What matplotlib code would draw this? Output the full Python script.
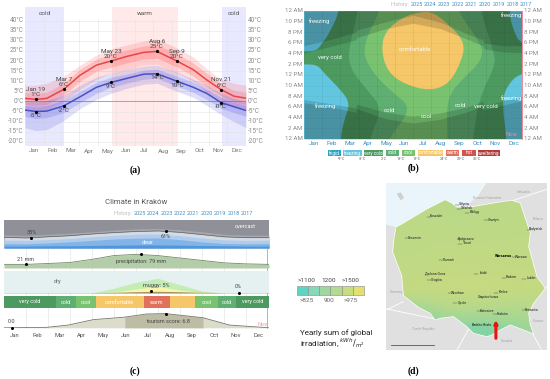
import matplotlib
matplotlib.use("Agg")
import matplotlib.pyplot as plt
import numpy as np
from matplotlib.patches import PathPatch, Polygon
from matplotlib.path import Path
from matplotlib.colors import LinearSegmentedColormap

plt.rcParams["font.family"] = ["Roboto", "DejaVu Sans"]

MONTHS = ["Jan", "Feb", "Mar", "Apr", "May", "Jun", "Jul", "Aug", "Sep", "Oct", "Nov", "Dec"]
YEARS = ["2025", "2024", "2023", "2022", "2021", "2020", "2019", "2018", "2017"]

# panel a: temperature by day of year
days = [0, 18, 36, 64, 91, 118, 142, 168, 196, 218, 251, 278, 300, 324, 345, 365]
high_mean = [1.5, 1, 1.5, 6, 13, 18, 20, 22.3, 24.3, 24.8, 20, 15.7, 10.7, 5.8, 2.6, 1.6]
low_mean = [-4.3, -5, -4.8, -2.2, 2.3, 7, 9.4, 11.4, 13.5, 13.7, 10, 7, 4, -0.6, -2.6, -4.5]
high_p90 = [8, 8, 9, 12.5, 18, 23, 26, 28, 30, 31, 26.5, 22, 16, 11, 9, 8]
high_p75 = [4.5, 4, 4.5, 9, 16, 21, 23.5, 25.5, 27.5, 28, 23.5, 19, 14, 8.5, 5.5, 4.5]
high_p25 = [-1.5, -2, -1.5, 3, 10, 15, 17, 19, 21, 21.5, 17, 12.5, 7.5, 2.8, -0.5, -1.5]
high_p10 = [-4.5, -5, -4, 0, 6, 11, 14, 16, 18, 18.5, 14, 10, 4.5, 0, -3, -4.5]
low_p90 = [0, 0, 0.5, 3, 8, 12, 14, 16, 17.5, 18, 14.5, 11, 8, 4, 1.5, 0]
low_p75 = [-2, -2.5, -2, 0.5, 5, 9.5, 12, 13.5, 15.5, 16, 12.5, 9.5, 6, 2, -0.5, -2]
low_p25 = [-7.5, -8.5, -8, -5.5, -0.5, 4, 7, 9, 11, 11.5, 7.5, 4.5, 1, -3.5, -5.5, -7.5]
low_p10 = [-13, -14.5, -14, -9.5, -3.5, 1, 4, 6.5, 8.5, 9, 5, 2, -2, -6.5, -10, -13]
high_notes = [(18, 1, "Jan 19\n1°C"), (64, 6, "Mar 7\n6°C"), (142, 20, "May 23\n20°C"),
              (218, 24.8, "Aug 6\n25°C"), (251, 20, "Sep 9\n20°C"), (324, 5.8, "Nov 21\n6°C")]
low_notes = [(18, -5, "-5°C"), (64, -2.2, "-2°C"), (142, 9.4, "9°C"),
             (218, 13.7, "14°C"), (251, 10, "10°C"), (324, -0.6, "-0°C")]
month_edges = [0, 31, 59, 90, 120, 151, 181, 212, 243, 273, 304, 334, 365]
season_spans = [(0, 64.5, "#e8e8ff", "cold"), (143, 252, "#ffe9e9", "warm"), (326, 365, "#e8e8ff", "cold")]

# panel b: hour of day by month, region outlines (running past the plot edges)
cold_months = [3.0, 3.0, 2.45, 2.5, 3.54, 4.3, 3.6, 3.5, 9.2, 9.3, 9.65, 10.5, 10.5, 9.7, 9.7]
cold_hours = [28, 24, 17, 13.3, 8.9, 5.8, 0, -4, -4, 0, 7.8, 13.5, 16, 24, 28]
cool_months = [4.2, 4.2, 3.25, 3.45, 4.73, 6.0, 4.6, 4.5, 7.9, 7.9, 7.85, 8.77, 9.8, 9.8, 8.4, 8.4]
cool_hours = [28, 24, 17.8, 13.8, 9, 5.8, 0, -4, -4, 0, 7.8, 11.4, 14.7, 17.8, 24, 28]
comfort_months = [6.4, 5.5, 4.45, 4.25, 4.6, 5.5, 6.9, 8.0, 8.7, 8.85, 8.0, 7.1]
comfort_hours = [23.8, 23, 20.2, 16.6, 12.6, 10.3, 9, 10.3, 14.8, 18.2, 21.4, 23.8]
frz_tl_months = [-2, 1.95, 1.95, 1.5, 1, 0.5, -2]
frz_tl_hours = [28, 28, 24, 20.5, 17.8, 16, 17.6]
frz_bl_months = [-2, -2, 0.55, 1.2, 2.0, 2.55, 2.2, 2.0, 2.0]
frz_bl_hours = [-4, 12.5, 14.6, 12, 9.3, 6.7, 3.5, 0, -4]
frz_tr_months = [14, 11.3, 11.3, 11.45, 11.95, 14]
frz_tr_hours = [28, 28, 24, 21, 17.4, 16.5]
frz_br_months = [14, 11.15, 11.15, 10.9, 11.15, 11.9, 14]
frz_br_hours = [-4, -4, 0, 7, 9.8, 12.6, 12.5]
sun_months = [0, 1.5, 2.85, 2.9, 4.5, 6, 7.5, 9, 9.85, 9.9, 11, 12]
dusk_outer = [17.5, 18.7, 20, 20.4, 22, 23.2, 21.9, 19.7, 18.6, 18, 17.5, 17.5]
dusk_inner = [16.1, 17.4, 18.6, 19, 20.7, 21.7, 20.7, 18.7, 17.5, 16.9, 16.3, 16.2]
dawn_inner = [7.4, 6.6, 5.8, 6.5, 5, 4.3, 4.9, 6, 7.1, 6.2, 7.2, 8]
dawn_outer = [6.8, 6, 5, 5.7, 3.8, 3, 3.7, 5.1, 6.3, 5.4, 6.4, 7.2]
hour_labels = ["12 AM", "2 AM", "4 AM", "6 AM", "8 AM", "10 AM", "12 PM", "2 PM", "4 PM",
               "6 PM", "8 PM", "10 PM", "12 AM"]
chip_names = ["frigid", "freezing", "very cold", "cold", "cool", "comfortable", "warm", "hot", "sweltering"]
chip_colors = ["#2aa3bd", "#62c6e0", "#4d9a60", "#5fae72", "#79c26f", "#f6c768", "#e0715c", "#d2524c", "#b03c3c"]
chip_edges = [158, 197, 205, 260, 267, 323, 332, 372, 380, 420, 428, 505, 512, 553, 561, 602, 609, 674]
chip_limits = ["-9°C", "-3°C", "2°C", "13°C", "18°C", "24°C", "29°C", "35°C"]

# panel c: strips by month
strip_x = [0, 1, 2, 3, 4, 5, 6, 7, 8, 9, 10, 11, 12.06]
clear_top = [38, 36, 40, 44, 50, 55, 59, 61, 56, 48, 40, 37, 37]
cloud_top = [47, 45, 49, 53, 58, 64, 68, 70, 65, 58, 49, 46, 46]
partly_top = [28, 27, 30, 34, 40, 45, 49, 50, 44, 36, 29, 27, 28]
mostly_top = [16, 15, 18, 22, 27, 32, 35, 36, 30, 22, 16, 15, 16]
clear_sky = [7, 7, 8, 8, 9, 10, 11, 11, 10, 9, 8, 7, 7]
precip_x = [0, 1, 2, 3, 4, 5, 6, 7, 8, 9, 10, 11, 12.06]
precip_mm = [21, 21, 26, 32, 50, 72, 79, 72, 58, 44, 30, 24, 21]
mugg_x = [0, 4, 5, 6, 7, 8, 9, 10, 12.06]
muggy_green = [0, 0, 14, 32, 44, 25, 6, 0, 0]
muggy_yellow = [0, 0, 3, 12, 20, 9, 2, 0, 0]
muggy_brown = [1, 1, 2, 4, 5, 4, 2, 1, 1]
band_names = ["very cold", "cold", "cool", "comfortable", "warm", "", "cool", "cold", "very cold"]
band_edges = [0, 2.36, 3.27, 4.18, 6.36, 7.55, 8.70, 9.73, 10.58, 12.06]
band_colors = ["#4d9a60", "#5fae72", "#79c26f", "#f6c768", "#e0715c", "#f6c768", "#79c26f", "#5fae72", "#4d9a60"]
tour_x = [0, 1.94, 2.92, 4.06, 5.5, 6.48, 7.35, 9.06, 10.27, 12.06]
tour_score = [0, 0.2, 1.3, 3.9, 5.1, 6.6, 6.8, 4.8, 1.3, 0]

# panel d: map outlines, x and y in map units
poland_x = [378, 400, 450, 470, 525, 545, 560, 600, 640, 700, 725, 750, 760, 780, 775, 790, 800, 825, 810, 790,
            775, 780, 790, 760, 720, 690, 665, 650, 610, 590, 550, 510, 495, 480, 445, 400, 395, 368, 372]
poland_y = [172, 160, 130, 118, 90, 100, 112, 112, 105, 95, 92, 100, 130, 190, 230, 285, 320, 355, 375, 400,
            430, 465, 492, 480, 465, 480, 495, 500, 490, 470, 440, 445, 450, 430, 412, 377, 317, 247, 205]
sea_x = [348, 645, 615, 600, 560, 545, 525, 470, 450, 400, 378, 348]
sea_y = [40, 40, 85, 100, 112, 100, 90, 118, 130, 160, 172, 165]
island_x = [380, 392, 402, 392]
island_y = [72, 68, 84, 92]
irradiance = [[1085, 1080, 1085, 1085], [1090, 1090, 1090, 1095], [1095, 1100, 1100, 1100], [1100, 1110, 1110, 1110],
              [1110, 1120, 1120, 1110], [1040, 1070, 1070, 1070], [980, 1010, 1010, 1030]]
irr_colors = ["#5cd0b4", "#9ad69a", "#b8d98a", "#c6da80"]
cities = [("Gdynia", 582, 104), ("Gdańsk", 590, 116), ("Elbląg", 613, 128), ("Olsztyn", 670, 150),
          ("Koszalin", 498, 140), ("Szczecin", 433, 204), ("Bydgoszcz", 588, 208), ("Toruń", 592, 221),
          ("Białystok", 798, 179), ("Warsaw", 752, 261), ("Poznań", 535, 270), ("Zielona Gora", 494, 313),
          ("Głogów", 500, 330), ("Łódź", 640, 310), ("Radom", 722, 322), ("Lublin", 782, 325),
          ("Wrocław", 562, 369), ("Kielce", 700, 367), ("Częstochowa", 655, 381), ("Opole", 578, 398),
          ("Katowice", 649, 422), ("Kraków", 697, 431), ("Rzeszów", 784, 419), ("Bielsko-Biała", 635, 465)]
neighbours = [("Russian Federation", 650, 85), ("Lithuania", 760, 68), ("Belarus", 805, 148),
              ("Ukraine", 805, 452), ("Slovakia", 710, 512), ("Czech Republic", 460, 478), ("Germany", 378, 367)]
borders = [([350, 400], [420, 395]), ([495, 350], [447, 417]), ([595, 560], [477, 542]), ([785, 815], [487, 542]),
           ([730, 835], [92, 57]), ([825, 830], [357, 350]), ([645, 615], [42, 87])]
legend_colors = ["#5cd6c0", "#85d8b8", "#9ed8a0", "#b2da90", "#c8dc80", "#e4e070"]

GRAY = "#8a8a8a"
BLUE = "#3f8fc4"

fig = plt.figure(figsize=(5.5, 3.79), dpi=100)


def pane(x0, y0, x1, y1):
    ax = fig.add_axes([x0 / 550, 1 - y1 / 379, (x1 - x0) / 550, (y1 - y0) / 379])
    ax.axis("off")
    return ax


def history(ax, x0, step, y):
    ax.text(x0 - 17, y, "History:", color="#bbbbbb", fontsize=4, ha="center", va="center")
    for i, year in enumerate(YEARS):
        ax.text(x0 + i * step, y, year, color=BLUE, fontsize=4, ha="center", va="center")


def blob(ax, xs, ys, color):
    # closed quadratic spline through the outline's edge midpoints
    pts = list(zip(xs, ys))
    mids = [((p[0] + q[0]) / 2, (p[1] + q[1]) / 2) for p, q in zip(pts, pts[1:] + pts[:1])]
    verts = [mids[-1]]
    codes = [Path.MOVETO]
    for p, m in zip(pts, mids):
        verts += [p, m]
        codes += [Path.CURVE3, Path.CURVE3]
    verts.append(verts[0])
    codes.append(Path.CLOSEPOLY)
    ax.add_patch(PathPatch(Path(verts, codes), fc=color, ec="none", lw=0))


page = pane(0, 0, 550, 379)
page.set_xlim(0, 550)
page.set_ylim(379, 0)

# panel a
a = pane(25, 7, 246, 146)
a.set_xlim(0, 365)
a.set_ylim(-22.1, 46.8)
for start, end, color, name in season_spans:
    a.axvspan(start, end, color=color, lw=0, zorder=0)
    a.text((start + end) / 2, 43.8, name, fontsize=4.6, color="#555555", ha="center", va="center")
for edge in month_edges[1:-1]:
    a.plot([edge, edge], [-22.1, 41], color="#e4e4e4", lw=0.4, zorder=1)
for t in range(-20, 45, 5):
    a.plot([0, 365], [t, t], color="#e4e4e4", lw=0.4, zorder=1)
    page.text(23.5, 141.7 - (t + 20) * 2.017, f"{t}°C", fontsize=4.7, color=GRAY, ha="right", va="center")
    page.text(247.5, 141.7 - (t + 20) * 2.017, f"{t}°C", fontsize=4.7, color=GRAY, ha="left", va="center")
a.plot([0, 365], [0, 0], color="#999999", lw=0.6, zorder=1)
a.fill_between(days, high_p10, high_p90, color="#ff3b3b", alpha=0.16, lw=0, zorder=2)
a.fill_between(days, high_p25, high_p75, color="#ff3b3b", alpha=0.2, lw=0, zorder=2)
a.fill_between(days, low_p10, low_p90, color="#4a4ae0", alpha=0.17, lw=0, zorder=3)
a.fill_between(days, low_p25, low_p75, color="#4a4ae0", alpha=0.2, lw=0, zorder=3)
a.plot(days, high_mean, color="#e8454a", lw=1.1, zorder=4)
a.plot(days, low_mean, color="#4a4fc8", lw=1.1, zorder=4)
for d, t, label in high_notes:
    a.plot(d, t, "o", color="black", ms=1.3, zorder=5)
    a.annotate(label, (d, t), xytext=(0, 1.5), textcoords="offset points", fontsize=4.6, color="#444444",
               ha="center", va="bottom", linespacing=1.05, zorder=6)
for d, t, label in low_notes:
    a.plot(d, t, "o", color="black", ms=1.3, zorder=5)
    a.annotate(label, (d, t), xytext=(0, -1.2), textcoords="offset points", fontsize=4.6, color="#444444",
               ha="center", va="top", zorder=6)
for i, month in enumerate(MONTHS):
    page.text(34 + i * 18.42, 151, month, fontsize=4.6, color="#777777", ha="center", va="center")

# panel b
b = pane(304, 11, 522, 139)
b.set_xlim(0, 12)
b.set_ylim(0, 24)
b.axvspan(0, 12, color="#4d9a60", lw=0, zorder=0)
blob(b, cold_months, cold_hours, "#5fae72")
blob(b, cool_months, cool_hours, "#79c26f")
blob(b, comfort_months, comfort_hours, "#f6c768")
for mx, hy in [(frz_tl_months, frz_tl_hours), (frz_bl_months, frz_bl_hours),
               (frz_tr_months, frz_tr_hours), (frz_br_months, frz_br_hours)]:
    blob(b, mx, hy, "#62c6e0")
b.fill_between(sun_months, dusk_inner, 24, color="black", alpha=0.14, lw=0, zorder=2)
b.fill_between(sun_months, dusk_outer, 24, color="black", alpha=0.14, lw=0, zorder=2)
b.fill_between(sun_months, 0, dawn_inner, color="black", alpha=0.14, lw=0, zorder=2)
b.fill_between(sun_months, 0, dawn_outer, color="black", alpha=0.14, lw=0, zorder=2)
for m in range(1, 12):
    b.plot([m, m], [0, 24], color="black", alpha=0.07, lw=0.5, zorder=3)
for h in range(2, 24, 2):
    b.plot([0, 12], [h, h], color="black", alpha=0.05, lw=0.4, zorder=3)
b.plot([12, 12], [0, 24], color="#e98a9a", lw=0.7, zorder=3, clip_on=False)
for text, mx, hy in [("freezing", 0.85, 22.1), ("freezing", 11.45, 23.2), ("very cold", 1.4, 15.2),
                     ("comfortable", 6.1, 16.7), ("freezing", 1.2, 6.1), ("freezing", 11.45, 7.7),
                     ("cold", 4.7, 5.4), ("cold", 8.6, 6.3), ("very cold", 10, 6.1), ("cool", 6.75, 4.2)]:
    b.text(mx, hy, text, color="white", fontsize=4.3, ha="center", va="center", alpha=0.95, zorder=4)
b.text(11.75, 0.8, "Now", color="#e98a9a", fontsize=4.2, ha="right", va="center", zorder=4)
for i, label in enumerate(hour_labels):
    y = 139 - i * 10.69
    page.text(302.5, y, label, fontsize=4.4, color=GRAY, ha="right", va="center")
    page.text(523.5, y, label, fontsize=4.4, color=GRAY, ha="left", va="center")
for i, month in enumerate(MONTHS):
    page.text(313.7 + i * 18.17, 143.3, month, fontsize=4.6, color=BLUE, ha="center", va="center")
history(page, 416.7, 13.67, 4.7)
for i, name in enumerate(chip_names):
    left = 275 + chip_edges[2 * i] / 3
    right = 275 + chip_edges[2 * i + 1] / 3
    page.fill([left, right, right, left], [150, 150, 156, 156], color=chip_colors[i], lw=0)
    page.text((left + right) / 2, 153, name, fontsize=3.3, color="white", ha="center", va="center")
for i, limit in enumerate(chip_limits):
    page.text(275 + (chip_edges[2 * i + 1] + chip_edges[2 * i + 2]) / 6, 159.5, limit, fontsize=2.8,
              color="#666666", ha="center", va="center")

# panel c
page.text(136, 201.5, "Climate in Kraków", fontsize=5.6, color="#555555", ha="center", va="center")
history(page, 139.5, 13.45, 213.5)

c1 = pane(4, 220, 269, 248)
c1.set_xlim(0, 12.06)
c1.set_ylim(0, 100)
c1.axvspan(0, 12.06, color="#8f9098", lw=0, zorder=0)
c1.fill_between(strip_x, 0, cloud_top, color="#a6a8ae", lw=0)
c1.fill_between(strip_x, 0, clear_top, color="#d3dbe6", lw=0)
c1.fill_between(strip_x, 0, partly_top, color="#b0ccec", lw=0)
c1.fill_between(strip_x, 0, mostly_top, color="#82b4e8", lw=0)
c1.fill_between(strip_x, 0, clear_sky, color="#4f96dc", lw=0)
c1.plot(strip_x, clear_top, color="#555555", lw=0.4)
c1.plot([1.25, 7.35], [36, 61], "o", color="black", ms=1.2, clip_on=False)
c1.text(1.25, 55, "35%", fontsize=4, color="#444444", ha="center", va="center")
c1.text(7.35, 40, "61%", fontsize=4, color="#444444", ha="center", va="center")
c1.text(11, 77, "overcast", fontsize=4, color="white", ha="center", va="center")
c1.text(6.55, 21, "clear", fontsize=4, color="white", ha="center", va="center")

c2 = pane(4, 249, 269, 268)
c2.set_xlim(0, 12.06)
c2.set_ylim(0, 110)
c2.fill_between(precip_x, 0, precip_mm, color="#b3cda8", lw=0)
c2.plot(precip_x, precip_mm, color="#708a68", lw=0.6)
c2.plot([1.0, 6.25], [21, 79], "o", color="black", ms=1.2)
c2.text(1.0, 47, "21 mm", fontsize=4, color="#444444", ha="center", va="center")
c2.text(6.25, 38, "precipitation: 79 mm", fontsize=4, color="#444444", ha="center", va="center")

c3 = pane(4, 271, 269, 293)
c3.set_xlim(0, 12.06)
c3.set_ylim(0, 66)
c3.axvspan(0, 12.06, color="#e5f0f1", lw=0, zorder=0)
c3.fill_between(mugg_x, 0, muggy_green, color="#c3edb4", lw=0)
c3.fill_between(mugg_x, 0, muggy_yellow, color="#faf5a8", lw=0)
c3.fill_between(mugg_x, 0, muggy_brown, color="#a89468", lw=0)
c3.plot([6.7, 10.68], [5, 1], "o", color="black", ms=1.2, clip_on=False)
c3.text(2.45, 33, "dry", fontsize=4, color="#555555", ha="center", va="center")
c3.text(6.95, 22, "muggy: 5%", fontsize=4, color="#444444", ha="center", va="center")
c3.text(10.68, 20, "0%", fontsize=4, color="#444444", ha="center", va="center")

c4 = pane(4, 296, 269, 308)
c4.set_xlim(0, 12.06)
c4.set_ylim(0, 1)
for i, name in enumerate(band_names):
    c4.barh(0.5, band_edges[i + 1] - band_edges[i], left=band_edges[i], height=1, color=band_colors[i])
    c4.text((band_edges[i] + band_edges[i + 1]) / 2, 0.5, name, fontsize=3.9, color="white",
            ha="center", va="center")

c5 = pane(4, 309, 269, 328)
c5.set_xlim(0, 12.06)
c5.set_ylim(-0.1, 9)
c5.fill_between(tour_x, 0, tour_score, color="#dcdccd", lw=0)
clip_x = [x for x in tour_x if 5.5 <= x <= 9.06]
clip_y = [s for x, s in zip(tour_x, tour_score) if 5.5 <= x <= 9.06]
c5.fill_between(clip_x, 0, clip_y, color="#bdbda6", lw=0)
c5.plot(tour_x, tour_score, color="#77776a", lw=0.6)
c5.plot([12.06, 0], [0, 0], color="#77776a", lw=0.6)
c5.plot([0.35, 7.35], [0, 6.8], "o", color="black", ms=1.2, clip_on=False)
c5.text(0.35, 3, "0.0", fontsize=4, color="#444444", ha="center", va="center")
c5.text(7.45, 3.2, "tourism score: 6.8", fontsize=4, color="#444444", ha="center", va="center")
c5.text(11.78, 1.5, "Now", fontsize=4, color="#f0a0a0", ha="center", va="center")

for month_x in range(1, 12):
    x = 4 + month_x * 22
    page.plot([x, x], [220, 328], color="black", alpha=0.1, lw=0.5)
page.plot([267, 267], [220, 328], color="#f08a8a", lw=0.6, zorder=5)
for i, month in enumerate(MONTHS):
    page.text(15 + i * 22.1, 335.5, month, fontsize=4.2, color="#555555", ha="center", va="center")

# panel d
d = pane(386, 183, 547, 350)
d.axvspan(348, 830, color="#e0e0e0", lw=0, zorder=0)
d.fill(sea_x, sea_y, color="#e9f5fb", lw=0, zorder=1)
d.fill(island_x, island_y, color="#d0d0d0", lw=0, zorder=1)
for bx, by in borders:
    d.plot(bx, by, color="white", lw=0.6, zorder=1)
outline = Polygon(np.column_stack([poland_x, poland_y]), closed=True, fc="none", ec="white", lw=0.5, zorder=3)
d.add_patch(outline)
irr_map = LinearSegmentedColormap.from_list("irr", irr_colors)
img = d.imshow(irradiance, extent=(368, 825, 500, 90), cmap=irr_map, aspect="auto", interpolation="bilinear",
               zorder=2)
img.set_clip_path(outline)
d.set_xlim(348, 830)
d.set_ylim(540, 40)
for name, x, y in cities:
    d.text(x, y, name, fontsize=2.5, color="#222222", ha="center", va="center", zorder=5)
    d.plot([x - 28, x - 16], [y + 1, y + 1], color="#444444", lw=0.3, zorder=4)
d.text(700, 260, "Warszawa", fontsize=2.7, color="black", fontweight="bold", ha="center", va="center", zorder=5)
for name, x, y in neighbours:
    d.text(x, y, name, fontsize=2.4, color="#a8a8a8", ha="center", va="center", zorder=4)
d.plot([362, 492], [526, 526], color="#555555", lw=0.6, zorder=4)
d.annotate("", xy=(677, 450), xytext=(677, 505), zorder=6,
           arrowprops=dict(arrowstyle="-|>", color="#ee1111", lw=2.2, mutation_scale=4, shrinkA=0, shrinkB=0))

for i, color in enumerate(legend_colors):
    page.fill([297 + i * 11.15, 297 + (i + 1) * 11.15, 297 + (i + 1) * 11.15, 297 + i * 11.15],
              [286, 286, 295, 295], fc=color, ec="#888888", lw=0.4)
for x, text in [(307, ">1100"), (329, "1200"), (351, ">1500")]:
    page.text(x, 280.5, text, fontsize=4.6, color="#444444", ha="center", va="center")
for x, text in [(307, ">825"), (329, "900"), (351, ">975")]:
    page.text(x, 300.5, text, fontsize=4.6, color="#666666", ha="center", va="center")
page.text(300, 333, "Yearly sum of global", fontsize=5.8, color="#222222", ha="left", va="center")
page.text(300, 343.5, r"irradiation, $^{kWh}/_{m^2}$", fontsize=5.8, color="#222222", ha="left", va="center")

for x, y, label in [(135, 170, "(a)"), (413, 168, "(b)"), (135, 371, "(c)"), (413, 371, "(d)")]:
    page.text(x, y, label, fontsize=7, family="Liberation Serif", color="black", ha="center", va="center",
              fontweight="bold")

fig.savefig("out.png", dpi=100)
